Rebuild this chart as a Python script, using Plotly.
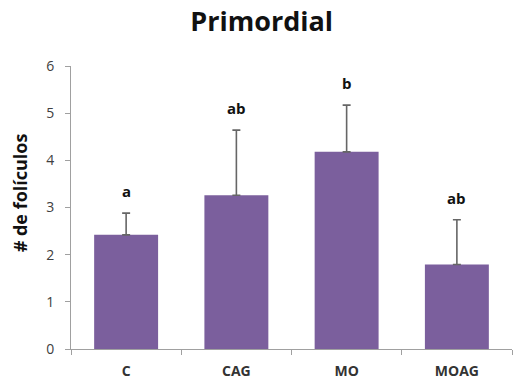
import plotly.graph_objects as go

categories = ["C", "CAG", "MO", "MOAG"]
means = [2.42, 3.26, 4.18, 1.79]
errors = [0.46, 1.38, 0.99, 0.95]
letters = ["a", "ab", "b", "ab"]

BAR = "#7B5F9D"
FONT = "Open Sans, Noto Sans, sans-serif"

fig = go.Figure()
fig.add_trace(go.Bar(
    x=categories, y=means,
    marker=dict(color=BAR, line=dict(width=0)),
    error_y=dict(type="data", array=errors, arrayminus=[0]*len(errors),
                 symmetric=False, color="#666666", thickness=1.6, width=4),
    width=0.58,
))

for c, m, e, l in zip(categories, means, errors, letters):
    fig.add_annotation(x=c, y=m + e, text=f"<b>{l}</b>", showarrow=False,
                       yanchor="bottom", yshift=10,
                       font=dict(family=FONT, size=15, color="#111"))

fig.add_annotation(xref="paper", yref="paper", x=-0.116, y=0.553,
                   text="<b># de folículos</b>", textangle=-90, showarrow=False,
                   xanchor="center", yanchor="middle",
                   font=dict(family=FONT, size=18, color="#111"))

fig.update_layout(
    width=513, height=387,
    margin=dict(l=71, r=1, t=66, b=38),
    paper_bgcolor="white", plot_bgcolor="white",
    showlegend=False,
    title=dict(text="<b>Primordial</b>", x=0.51, xanchor="center",
               y=0.945, yanchor="middle",
               font=dict(family=FONT, size=27, color="#111")),
    xaxis=dict(showline=True, linecolor="#a0a0a0", linewidth=1,
               ticks="outside", tickson="boundaries", ticklen=5, tickcolor="#a0a0a0",
               ticklabelstandoff=9,
               tickfont=dict(family=FONT, size=14, color="#333"),
               tickprefix="<b>", ticksuffix="</b>", showgrid=False),
    yaxis=dict(range=[0, 6], dtick=1, showline=True, linecolor="#a0a0a0", linewidth=1,
               ticks="outside", ticklen=5, tickcolor="#a0a0a0", showgrid=False,
               zeroline=False, ticklabelstandoff=8,
               tickfont=dict(family=FONT, size=14, color="#404040")),
)

fig.write_html("out.html")
